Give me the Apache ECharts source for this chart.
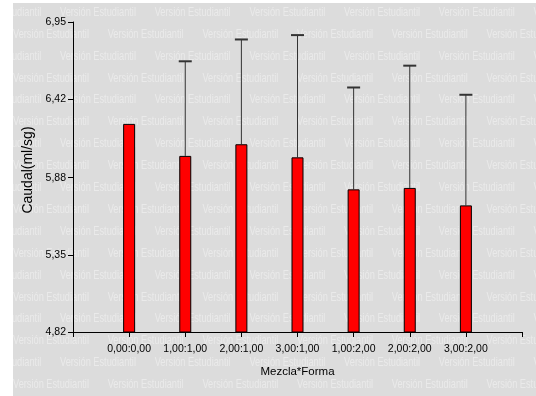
<!DOCTYPE html>
<html>
<head>
<meta charset="utf-8">
<script src="https://cdn.jsdelivr.net/npm/echarts@6/dist/echarts.min.js"></script>
<style>
html, body { margin: 0; padding: 0; background: #ffffff; }
#chart { width: 536px; height: 396px; }
</style>
</head>
<body>
<div id="chart"></div>
<script>
// Mean flow per Mezcla*Forma group, with the upper end of each error bar
const categories = ['0,00:0,00', '1,00:1,00', '2,00:1,00', '3,00:1,00', '1,00:2,00', '2,00:2,00', '3,00:2,00'];
const means = [6.25, 6.03, 6.11, 6.02, 5.80, 5.81, 5.69];
const upperBounds = [null, 6.68, 6.83, 6.86, 6.50, 6.65, 6.45];
const yTicks = [4.82, 5.35, 5.88, 6.42, 6.95];

const sansFont = "'Liberation Sans', Arial, sans-serif";
const fmt = v => v.toFixed(2).replace('.', ',');

// Axis slots: an empty slot at each end so the groups sit on ticks 1..7
const axisCats = [''].concat(categories, ['']);
const barData = [null].concat(means, [null]);
const errData = [];
means.forEach((m, i) => {
  if (upperBounds[i] != null) errData.push([i + 1, m, upperBounds[i]]);
});

// Background panel with the repeated "Versión Estudiantil" stamp
const W = 536, H = 396;
const panel = { x: 13, y: 3 };
const stamp = [];
stamp.push({ type: 'rect', z: -30, shape: { x: panel.x, y: panel.y, width: W - panel.x, height: H - panel.y }, style: { fill: '#dcdcdc' } });
const rowStep = 21.9, colStep = 94.7;
for (let r = 0; r < 19; r++) {
  const y = 12.3 + r * rowStep;
  let x = (r % 2 === 0) ? -34.7 : 13 - colStep;
  for (; x < W; x += colStep) {
    stamp.push({
      type: 'text', z: -20,
      x: x, y: y, scaleX: 0.71,
      style: {
        text: 'Versión Estudiantil', x: 0, y: 0,
        fill: '#eaeaea', font: '13px ' + sansFont,
        textVerticalAlign: 'middle', verticalAlign: 'middle'
      }
    });
  }
}
stamp.push({ type: 'rect', z: -10, shape: { x: 0, y: 0, width: panel.x, height: H }, style: { fill: '#ffffff' } });
stamp.push({ type: 'rect', z: -10, shape: { x: 0, y: 0, width: W, height: panel.y }, style: { fill: '#ffffff' } });

const chart = echarts.init(document.getElementById('chart'), null, { renderer: 'canvas' });
chart.setOption({
  animation: false,
  backgroundColor: '#ffffff',
  graphic: { elements: stamp },
  grid: { left: 73, right: 14, top: 22, bottom: 64 },
  xAxis: {
    type: 'category',
    data: axisCats,
    boundaryGap: false,
    name: 'Mezcla*Forma',
    nameLocation: 'middle',
    nameGap: 34,
    nameTextStyle: { color: '#000', fontSize: 11.5, fontFamily: sansFont },
    axisLine: { lineStyle: { color: '#000', width: 1 } },
    axisTick: { show: true, interval: 0, length: 5, lineStyle: { color: '#000' } },
    axisLabel: { interval: 0, color: '#000', fontSize: 10.5, fontFamily: sansFont, margin: 12 },
    splitLine: { show: false }
  },
  yAxis: {
    type: 'value',
    min: 4.82,
    max: 6.95,
    name: 'Caudal(ml/sg)',
    nameLocation: 'middle',
    nameGap: 33,
    nameTextStyle: { color: '#000', fontSize: 14, fontFamily: sansFont, padding: [0, 0, 0, 14] },
    axisLine: { show: true, lineStyle: { color: '#000', width: 1 } },
    axisTick: { show: true, length: 5, customValues: yTicks, lineStyle: { color: '#000' } },
    axisLabel: { color: '#000', fontSize: 10.5, fontFamily: sansFont, margin: 7, customValues: yTicks, formatter: v => fmt(v) },
    splitLine: { show: false }
  },
  series: [
    {
      type: 'bar',
      data: barData,
      barWidth: 12,
      itemStyle: { color: '#ff0000', borderColor: '#000', borderWidth: 1 },
      z: 3
    },
    {
      type: 'custom',
      data: errData,
      z: 2,
      renderItem: function (params, api) {
        const x = api.value(0);
        const p0 = api.coord([x, api.value(1)]);
        const p1 = api.coord([x, api.value(2)]);
        const half = 6.5;
        return {
          type: 'group',
          children: [
            { type: 'line', shape: { x1: p0[0], y1: p0[1], x2: p1[0], y2: p1[1] }, style: { stroke: '#333', lineWidth: 1 } },
            { type: 'line', shape: { x1: p1[0] - half, y1: p1[1], x2: p1[0] + half, y2: p1[1] }, style: { stroke: '#333', lineWidth: 2 } }
          ]
        };
      }
    }
  ]
});
</script>
</body>
</html>
